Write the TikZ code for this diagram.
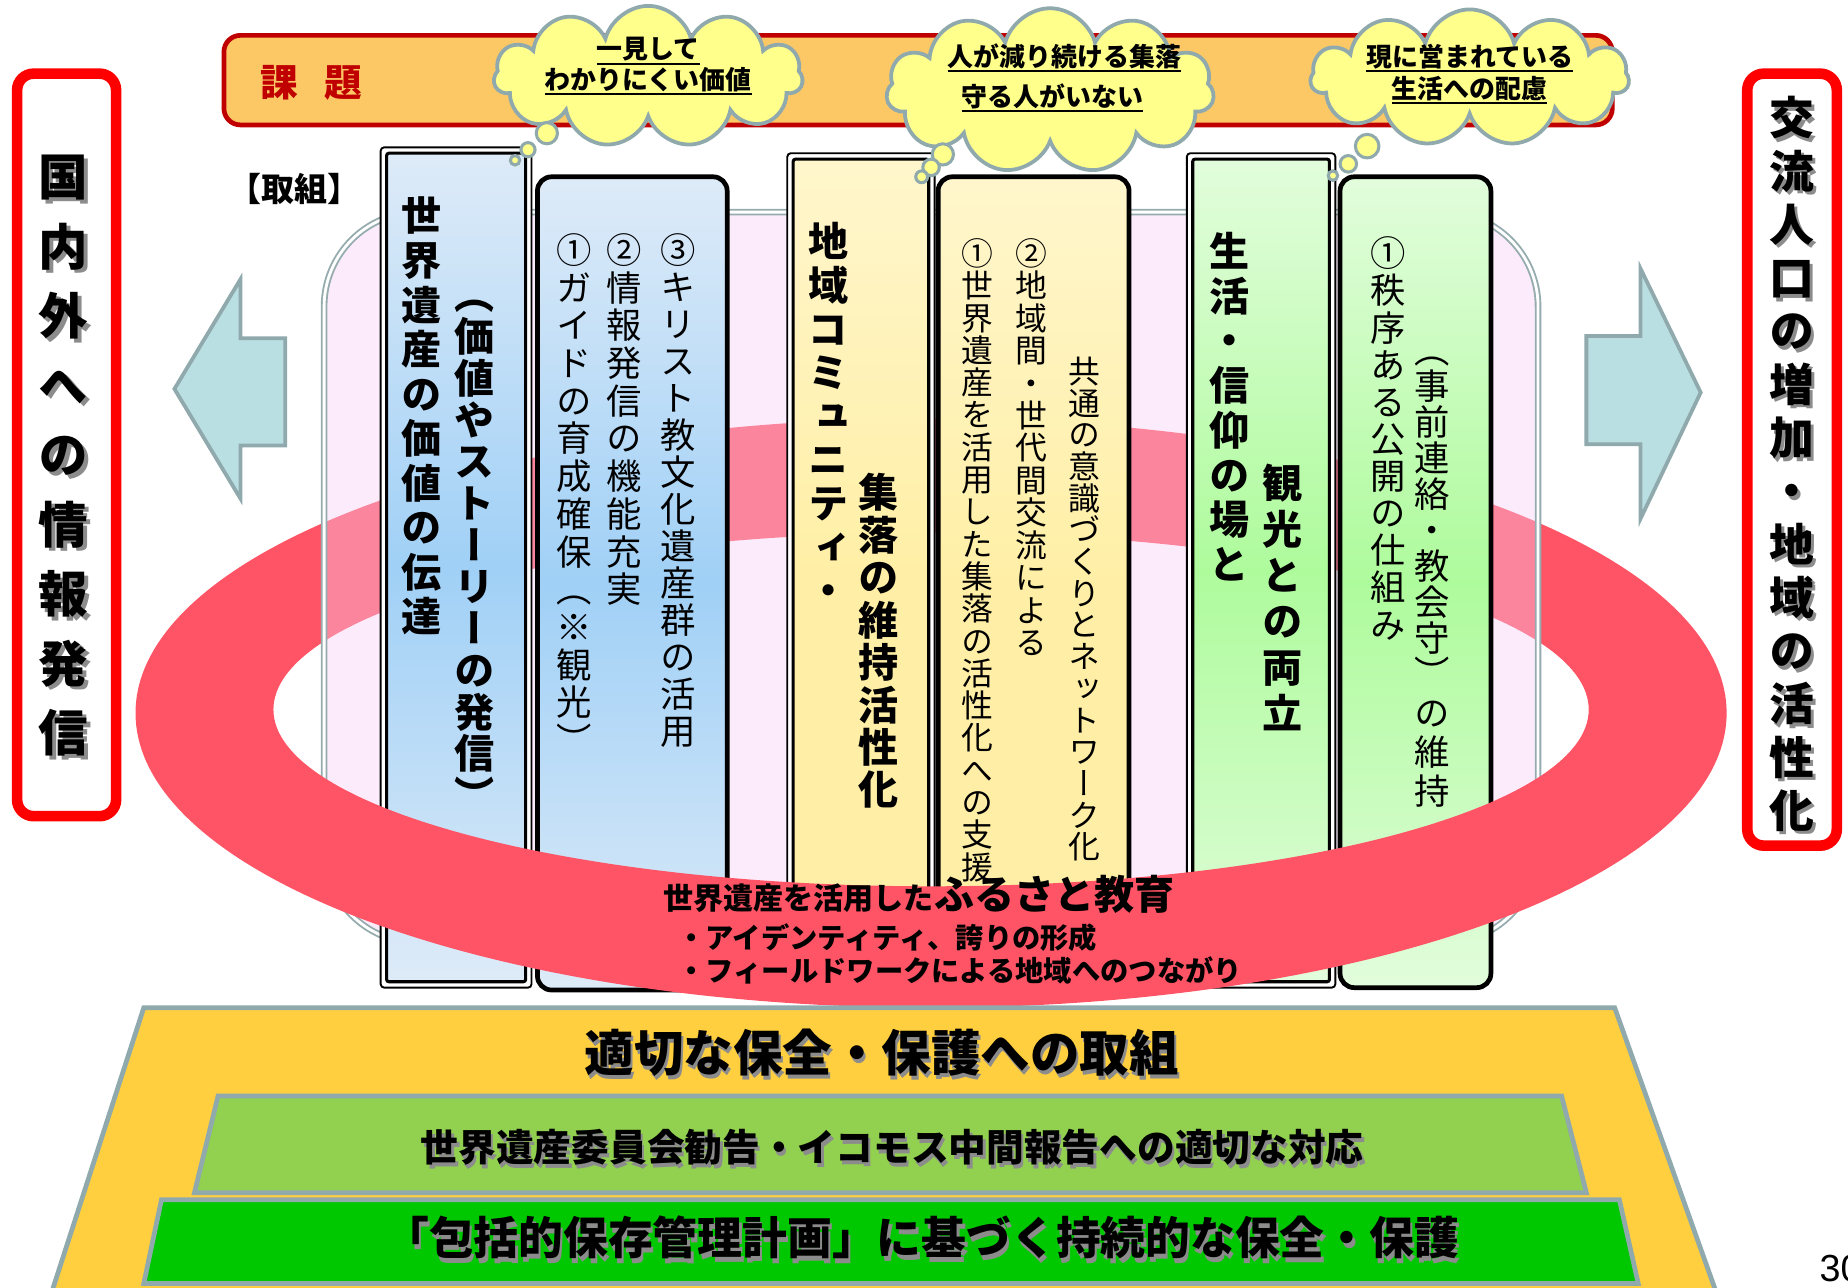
\documentclass[tikz,border=0pt]{standalone}
\usepackage{fontspec}
\setmainfont{Liberation Sans}
\newfontfamily\jp{Noto Sans CJK JP}
\newfontfamily\jpv{Noto Sans CJK JP}[RawFeature=+vert]
\usetikzlibrary{shapes.symbols}
\definecolor{kadaiF}{HTML}{FCC866}
\definecolor{kadaiD}{HTML}{C00000}
\definecolor{cloudF}{HTML}{FFFF8C}
\definecolor{cloudD}{HTML}{8FA9AD}
\definecolor{arrowF}{HTML}{B9DFE3}
\definecolor{ringR}{HTML}{FF5465}
\definecolor{bgP}{HTML}{F8D0F5}
\definecolor{bgD}{HTML}{95ABAE}
\definecolor{blueT}{HTML}{DEEBF8}
\definecolor{blueM}{HTML}{A0D0F6}
\definecolor{yelT}{HTML}{FFF6CC}
\definecolor{yelM}{HTML}{FFEFA6}
\definecolor{grnT}{HTML}{E2FDDC}
\definecolor{grnM}{HTML}{AEFB9C}
\definecolor{trapY}{HTML}{FFCF40}
\definecolor{trapG}{HTML}{92D050}
\definecolor{trapB}{HTML}{00C800}
\definecolor{trapD}{HTML}{8FA9AD}
\definecolor{redbox}{HTML}{FF0000}
\newlength\vtw
\let\vtEnd\relax
\def\vtA#1{\ifx#1\vtEnd\else\hbox to\vtw{\hss\vrule height .88em depth .12em width 0pt\relax #1\hss}\expandafter\vtA\fi}
\newcommand\vt[2]{\vbox{\vtw=1em\baselineskip=#1\lineskip=0pt\lineskiplimit=-1000pt\vtA#2\vtEnd}}
\newcommand\fz[1]{\fontsize{#1pt}{#1pt}\selectfont}
\begin{document}
\begin{tikzpicture}[x=0.5pt,y=-0.5pt,
  every node/.style={inner sep=0pt, outer sep=0pt},
  vbs/.style={anchor=north, font=\jpv\bfseries\fz{#1}},
  vrs/.style={anchor=north, font=\jpv\fz{#1}},
  hb/.style={font=\jp\bfseries\fz{#1}},
  ul/.style={line width=0.9pt, black},
  bub/.style={fill=cloudF, draw=cloudD, line width=1.3pt},
  cloudbox/.style={cloud, cloud puffs=11, cloud ignores aspect, fill=cloudF, draw=cloudD, line width=1.6pt},
  titleouter/.style={draw=black, line width=0.8pt, fill=white, rounded corners=1.5pt},
  titleinner/.style={draw=black, line width=1.3pt, rounded corners=1pt},
  detailbox/.style={draw=black, line width=2pt, rounded corners=6pt},
  arrowbox/.style={fill=arrowF, draw=cloudD, line width=1.6pt},
  trap/.style={draw=trapD, line width=2pt},
  shadowtext/.style={text=black!45}]
\useasboundingbox (0,0) rectangle (1568,1092);

% back half of the ring
\begin{scope}
\clip (0,0) rectangle (1568,590);
\fill[ringR, even odd rule] (790,605) ellipse [x radius=337.5pt, y radius=125pt]
  (790,602) ellipse [x radius=279pt, y radius=75pt];
\end{scope}

% background shape
\path[fill=bgP, fill opacity=0.4, draw=bgD, double=white, double distance=1.2pt, line width=0.8pt, rounded corners=40pt]
  (275,180) rectangle (1305,800);

% Kadai bar
\draw[fill=kadaiF, draw=kadaiD, line width=2pt, rounded corners=7pt] (190,30) rectangle (1368,106);
\node[hb=16, text=kadaiD] (kd) at (264,70) {課\hspace{11pt}題};
\node[hb=14] (tk) at (250,160) {【取組】};

% columns
\path[titleouter] (323,125) rectangle (451,838);
\path[titleinner, top color=blueT, bottom color=blueT, middle color=blueM] (328,130) rectangle (446,833);
\path[detailbox, top color=blueT, bottom color=blueT, middle color=blueM] (456,150) rectangle (617,840);
\path[titleouter] (668,130) rectangle (793,838);
\path[titleinner, top color=yelT, bottom color=yelM, middle color=yelM] (673,135) rectangle (788,833);
\path[detailbox, top color=yelT, bottom color=yelM, middle color=yelM] (796,150) rectangle (958,838);
\path[titleouter] (1007,130) rectangle (1133,838);
\path[titleinner, top color=grnT, bottom color=grnT, middle color=grnM] (1012,135) rectangle (1128,833);
\path[detailbox, top color=grnT, bottom color=grnT, middle color=grnM] (1137,150) rectangle (1265,838);

% column texts
\node[vbs=17] (c1a) at (358,166) {\vt{18.9pt}{世界遺産の価値の伝達}};
\node[vbs=17] (c1b) at (403,233) {\vt{17.7pt}{（価値やストーリーの発信）}};
\node[vrs=15] (c2a) at (487,197) {\vt{16pt}{①ガイドの育成確保（※観光）}};
\node[vrs=15] (c2b) at (530,197) {\vt{16pt}{②情報発信の機能充実}};
\node[vrs=15] (c2c) at (575,197) {\vt{15.7pt}{③キリスト教文化遺産群の活用}};
\node[vbs=17] (c3a) at (703,188) {\vt{18.5pt}{地域コミュニティ・}};
\node[vbs=17] (c3b) at (745,401) {\vt{18pt}{集落の維持活性化}};
\node[vrs=13.5] (c4a) at (829,201.5) {\vt{13.7pt}{①世界遺産を活用した集落の活性化への支援}};
\node[vrs=13.5] (c4b) at (875,201.5) {\vt{13.75pt}{②地域間・世代間交流による}};
\node[vrs=13.5] (c4c) at (920,301.5) {\vt{13.45pt}{共通の意識づくりとネットワーク化}};
\node[vbs=17] (c5a) at (1043,196) {\vt{19pt}{生活・信仰の場と}};
\node[vbs=17] (c5b) at (1088,393) {\vt{19.5pt}{観光との両立}};
\node[vrs=15] (c6a) at (1178,200) {\vt{15.75pt}{①秩序ある公開の仕組み}};
\node[vrs=15] (c6b) at (1215,282) {\vt{15.25pt}{（事前連絡・教会守）}};
\node[vrs=15] (c6c) at (1215,590) {\vt{16.5pt}{の維持}};

% front half of the ring
\begin{scope}
\clip (0,590) rectangle (1568,1092);
\fill[ringR, even odd rule] (790,605) ellipse [x radius=337.5pt, y radius=125pt]
  (790,602) ellipse [x radius=279pt, y radius=75pt];
\end{scope}
\node[anchor=base west, font=\jp\bfseries] (r1) at (563,772) {\fz{12.75}世界遺産を活用した\fz{17}ふるさと教育};
\node[anchor=base west, hb=12] (r2) at (575,805) {・アイデンティティ、誇りの形成};
\node[anchor=base west, hb=12] (r3) at (575,833) {・フィールドワークによる地域へのつながり};

% bottom trapezoids
\path[trap, fill=trapY] (122,855) -- (1370,855) -- (1456,1096) -- (44,1096) -- cycle;
\path[trap, fill=trapG] (185,930) -- (1325,930) -- (1346,1012) -- (165,1012) -- cycle;
\path[trap, fill=trapB] (137,1018) -- (1374,1018) -- (1390,1089) -- (122,1089) -- cycle;
\node[hb=21, shadowtext] (b1s) at (750,897) {適切な保全・保護への取組};
\node[hb=21] (b1) at (748,893) {適切な保全・保護への取組};
\node[hb=16, shadowtext] (b2s) at (759,977) {世界遺産委員会勧告・イコモス中間報告への適切な対応};
\node[hb=16] (b2) at (757,973) {世界遺産委員会勧告・イコモス中間報告への適切な対応};
\node[hb=19, shadowtext] (b3s) at (784,1054) {「包括的保存管理計画」に基づく持続的な保全・保護};
\node[hb=19] (b3) at (782,1050) {「包括的保存管理計画」に基づく持続的な保全・保護};

% red boxes
\draw[redbox, line width=4.5pt, fill=white, rounded corners=7pt] (14.5,62.5) rectangle (98.5,692.5);
\draw[redbox, line width=4.5pt, fill=white, rounded corners=7pt] (1482.5,62.5) rectangle (1558.5,717.5);
\node[vbs=21, shadowtext] (lbs) at (57,132) {\vt{29.5pt}{国内外への情報発信}};
\node[vbs=21] (lb) at (54,129) {\vt{29.5pt}{国内外への情報発信}};
\node[vbs=19, shadowtext] (rbs) at (1523,84) {\vt{22.6pt}{交流人口の増加・地域の活性化}};
\node[vbs=19] (rb) at (1520,81) {\vt{22.6pt}{交流人口の増加・地域の活性化}};

% arrows
\path[arrowbox] (148,330) -- (204,237) -- (204,287) -- (242,287) -- (242,378) -- (204,378) -- (204,423) -- cycle;
\path[arrowbox] (1443,333) -- (1392,228) -- (1392,285) -- (1346,285) -- (1346,377) -- (1392,377) -- (1392,440) -- cycle;

% clouds
\node[cloudbox, minimum width=131pt, minimum height=60pt] (cl1) at (550,65) {};
\path[bub] (464,113) circle [radius=4.5pt];
\path[bub] (448,127) circle [radius=3pt];
\path[bub] (437,136) circle [radius=2pt];
\node[cloudbox, minimum width=139pt, minimum height=70pt] (cl2) at (891,77) {};
\path[bub] (800,131) circle [radius=4.5pt];
\path[bub] (790,142) circle [radius=3.5pt];
\path[bub] (782,150) circle [radius=2.5pt];
\node[cloudbox, minimum width=135pt, minimum height=58pt] (cl3) at (1247,66) {};
\path[bub] (1160,124) circle [radius=5pt];
\path[bub] (1144,139) circle [radius=3.5pt];
\path[bub] (1131,149) circle [radius=2pt];

\node[hb=11, anchor=base] (q1a) at (550,50) {一見して};
\node[hb=11, anchor=base] (q1b) at (550,76) {わかりにくい価値};
\node[hb=11, anchor=base] (q2a) at (903,56.5) {人が減り続ける集落};
\node[hb=11, anchor=base] (q2b) at (893,90.5) {守る人がいない};
\node[hb=11, anchor=base] (q3a) at (1247,56.5) {現に営まれている};
\node[hb=11, anchor=base] (q3b) at (1247,83.5) {生活への配慮};
\foreach \n in {q1a,q1b,q2a,q2b,q3a,q3b}
  \draw[ul] ([yshift=-2pt]\n.base west) -- ([yshift=-2pt]\n.base east);

\node[anchor=west, font=\fz{16}] (pg) at (1544,1076) {30};
\end{tikzpicture}
\end{document}
